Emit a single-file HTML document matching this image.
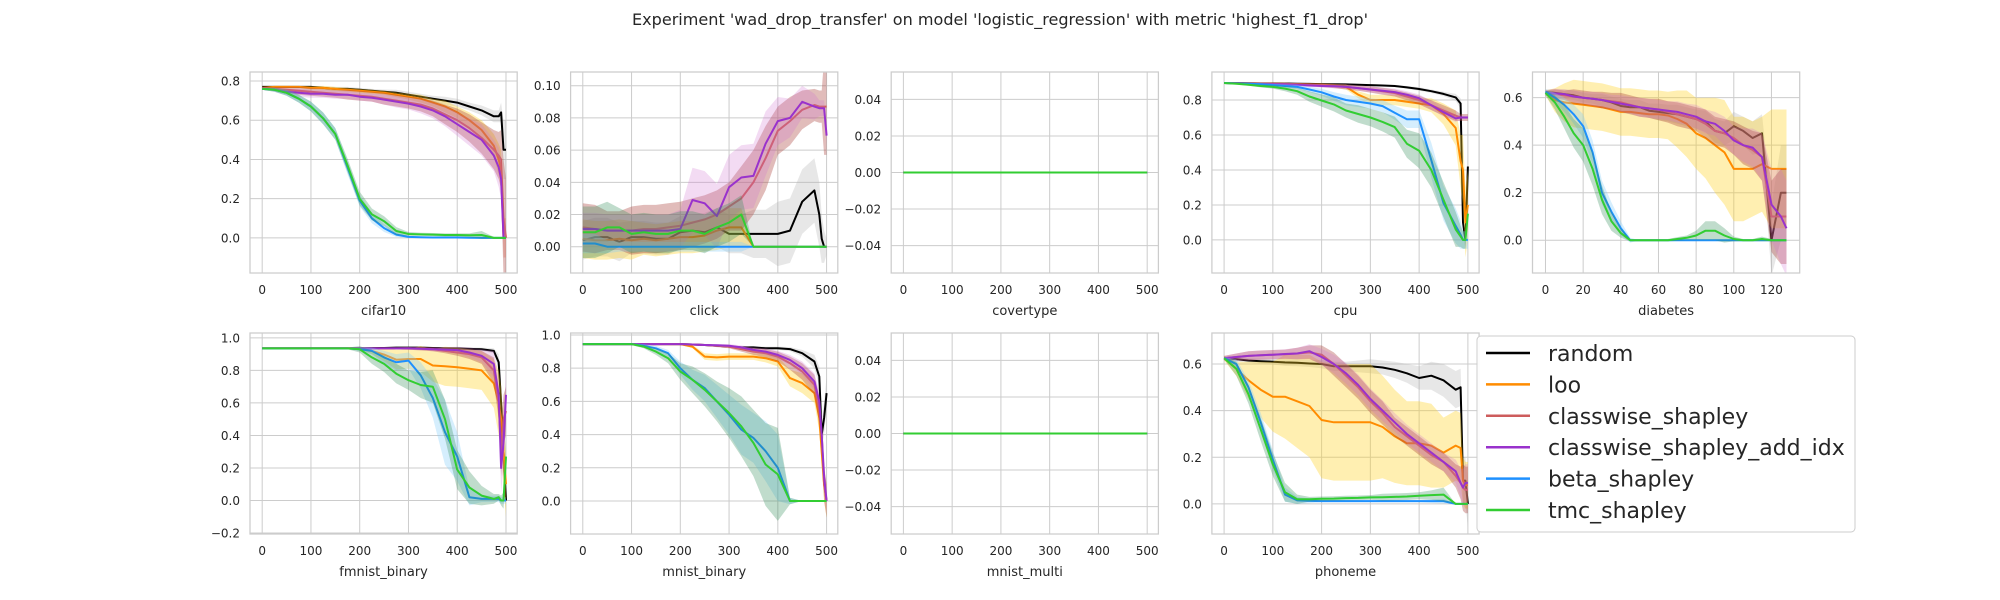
<!DOCTYPE html>
<html><head><meta charset="utf-8"><title>wad_drop_transfer</title>
<style>html,body{margin:0;padding:0;background:#fff;}svg{display:block;font-family:"DejaVu Sans","Liberation Sans",sans-serif;}</style>
</head><body>
<svg id="fig" width="2000" height="600" viewBox="0 0 2000 600" xmlns="http://www.w3.org/2000/svg">
<rect width="2000" height="600" fill="#ffffff"/>
<text x="1000" y="25" font-size="16" fill="#262626" text-anchor="middle" textLength="736" lengthAdjust="spacingAndGlyphs">Experiment 'wad_drop_transfer' on model 'logistic_regression' with metric 'highest_f1_drop'</text>
</svg>
<script>
// ---------- data ----------
const methods = ["random","loo","classwise_shapley","classwise_shapley_add_idx","beta_shapley","tmc_shapley"];
const xs500 = [0,25,50,75,100,125,150,175,200,225,250,275,300,325,350,375,400,425,450,475,485,490,495,500];
const xsDiab = [0,5,10,15,20,25,30,35,40,45,50,55,60,65,70,75,80,85,90,95,100,105,110,115,120,125,128];
const xticks500 = [0,100,200,300,400,500];
const xticksDiab = [0,20,40,60,80,100,120];

// cifar10
const cifar10_random = [.77,.77,.77,.77,.77,.765,.76,.76,.755,.75,.745,.74,.73,.72,.71,.70,.69,.67,.65,.62,.62,.64,.45,.45];
const cifar10_loo = [.765,.77,.77,.77,.765,.765,.76,.755,.75,.745,.74,.73,.72,.71,.69,.67,.64,.60,.55,.47,.40,.35,0,0];
const cifar10_cw = [.765,.76,.755,.75,.745,.74,.735,.73,.725,.72,.71,.70,.69,.68,.66,.63,.60,.56,.51,.45,.42,.40,.1,0];
const cifar10_cwidx = [.76,.755,.745,.74,.735,.735,.73,.73,.72,.715,.705,.695,.685,.67,.65,.62,.58,.54,.50,.42,.36,.30,0,0];
const cifar10_beta = [.76,.755,.74,.71,.67,.61,.53,.36,.19,.10,.05,.017,.005,.003,.002,.002,.002,.001,0,0,0,0,0,0];
const cifar10_tmc = [.76,.755,.74,.71,.67,.61,.53,.37,.20,.12,.085,.035,.02,.018,.017,.015,.015,.013,.015,0,0,0,0,0];
const cifar10_random_sd = [.005,.005,.005,.005,.005,.008,.01,.01,.01,.01,.012,.015,.015,.015,.015,.02,.02,.02,.025,.03,.03,.05,.15,.15];
const cifar10_loo_sd = [.005,.005,.005,.005,.008,.01,.01,.01,.01,.01,.01,.012,.015,.02,.02,.03,.03,.04,.05,.06,.08,.1,.1,.1];
const cifar10_cw_sd = [.005,.01,.015,.02,.02,.02,.02,.025,.025,.025,.03,.03,.03,.035,.04,.05,.06,.07,.08,.1,.12,.15,.3,.3];
const cifar10_cwidx_sd = [.005,.01,.015,.02,.02,.02,.02,.02,.02,.02,.025,.03,.03,.035,.04,.05,.06,.07,.08,.08,.1,.1,.1,.1];
const cifar10_beta_sd = [.005,.01,.015,.02,.025,.03,.03,.035,.03,.025,.02,.012,.005,.003,.003,.003,.003,.003,.003,.003,.003,.003,.003,.003];
const cifar10_tmc_sd = [.005,.01,.015,.02,.025,.03,.03,.035,.035,.03,.025,.02,.01,.008,.008,.008,.008,.01,.02,.005,.005,.005,.005,.005];

// click
const click_random = [.004,.006,.006,.003,.006,.006,.005,.005,.009,.01,.009,.012,.008,.008,.008,.008,.008,.01,.028,.035,.02,.005,0,0];
const click_loo = [.005,.004,.004,.005,.004,.005,.004,.005,.006,.006,.007,.01,.012,.012,0,0,0,0,0,0,0,0,0,0];
const click_cw = [.012,.011,.01,.01,.01,.011,.011,.012,.013,.015,.017,.02,.025,.03,.04,.055,.072,.078,.085,.088,.087,.087,.087,.087];
const click_cwidx = [.011,.011,.01,.01,.01,.01,.01,.01,.011,.029,.027,.019,.037,.043,.044,.064,.078,.08,.09,.087,.086,.086,.086,.069];
const click_beta = [.002,.002,0,0,0,0,0,0,0,0,0,0,0,0,0,0,0,0,0,0,0,0,0,0];
const click_tmc = [.009,.009,.012,.012,.008,.009,.008,.008,.01,.01,.008,.012,.015,.02,0,0,0,0,0,0,0,0,0,0];
const click_random_sd = [.012,.012,.012,.012,.01,.01,.01,.01,.01,.01,.012,.012,.012,.012,.015,.015,.02,.02,.02,.02,.02,.015,.01,.005];
const click_loo_sd = [.012,.012,.012,.012,.012,.01,.01,.01,.01,.01,.01,.012,.012,.012,0,0,0,0,0,0,0,0,0,0];
const click_cw_sd = [.015,.015,.012,.012,.015,.015,.015,.015,.015,.015,.015,.015,.015,.02,.02,.02,.015,.015,.012,.01,.01,.01,.03,.03];
const click_cwidx_sd = [.01,.01,.01,.01,.01,.01,.01,.01,.012,.02,.02,.02,.02,.02,.02,.02,.015,.012,.01,.008,.005,.005,.005,.005];
const click_beta_sd = [.006,.006,.004,.003,.003,.003,.003,.003,.003,.003,.003,.003,.003,.003,0,0,0,0,0,0,0,0,0,0];
const click_tmc_sd = [.016,.016,.016,.012,.012,.012,.012,.012,.012,.012,.012,.012,.012,.012,0,0,0,0,0,0,0,0,0,0];

// covertype / mnist_multi (all methods flat at zero)
const flat_zero = [0,0,0,0,0,0,0,0,0,0,0,0,0,0,0,0,0,0,0,0,0,0,0,0];

// cpu
const cpu_random = [.897,.897,.896,.895,.895,.894,.893,.892,.891,.89,.889,.887,.885,.883,.88,.872,.863,.85,.835,.815,.78,.1,0,.42];
const cpu_loo = [.897,.896,.895,.894,.893,.892,.89,.889,.887,.882,.875,.83,.80,.80,.80,.79,.78,.77,.72,.64,.45,.40,.10,.20];
const cpu_cw = [.897,.896,.895,.894,.893,.892,.89,.888,.885,.88,.875,.868,.86,.85,.84,.82,.80,.77,.74,.71,.70,.70,.70,.70];
const cpu_cwidx = [.897,.895,.893,.891,.89,.889,.886,.883,.88,.878,.875,.868,.86,.853,.845,.83,.81,.77,.73,.695,.70,.70,.70,.70];
const cpu_beta = [.897,.895,.893,.89,.885,.88,.875,.86,.844,.82,.80,.79,.78,.765,.727,.69,.69,.456,.21,.08,.03,0,0,0];
const cpu_tmc = [.897,.893,.887,.88,.875,.865,.85,.82,.797,.775,.74,.72,.70,.675,.645,.55,.51,.40,.23,.06,.02,0,0,.15];
const cpu_random_sd = [.003,.003,.003,.003,.003,.003,.003,.003,.004,.004,.004,.005,.005,.005,.006,.008,.01,.01,.012,.02,.03,.05,.05,.05];
const cpu_loo_sd = [.002,.003,.004,.005,.005,.005,.006,.006,.008,.01,.015,.02,.03,.03,.03,.03,.03,.04,.06,.1,.15,.2,.2,.2];
const cpu_cw_sd = [.002,.003,.004,.005,.005,.006,.007,.008,.01,.012,.015,.015,.018,.02,.02,.022,.025,.028,.03,.03,.02,.02,.02,.02];
const cpu_cwidx_sd = [.002,.003,.004,.005,.005,.006,.007,.008,.01,.012,.014,.015,.017,.018,.02,.02,.022,.025,.025,.02,.015,.01,.01,.01];
const cpu_beta_sd = [.002,.004,.005,.006,.008,.01,.012,.015,.02,.025,.03,.03,.03,.035,.04,.05,.05,.1,.1,.1,.08,.05,.05,.05];
const cpu_tmc_sd = [.002,.004,.006,.008,.01,.015,.02,.03,.035,.04,.04,.05,.05,.055,.06,.08,.1,.1,.1,.1,.06,.05,.05,.05];

// diabetes
const diab_random = [.625,.62,.615,.61,.60,.595,.59,.58,.565,.56,.56,.545,.54,.535,.53,.52,.51,.50,.46,.45,.48,.46,.43,.45,0,.2,.2];
const diab_loo = [.62,.59,.58,.575,.57,.565,.56,.55,.54,.54,.535,.53,.53,.525,.51,.49,.45,.43,.40,.37,.30,.30,.30,.32,.30,.30,.30];
const diab_cw = [.62,.615,.61,.605,.60,.595,.59,.585,.58,.57,.56,.555,.55,.54,.53,.52,.51,.49,.46,.45,.43,.40,.38,.35,.1,.1,.1];
const diab_cwidx = [.62,.618,.615,.605,.60,.595,.59,.582,.575,.568,.56,.555,.55,.545,.54,.53,.52,.50,.49,.46,.42,.40,.39,.35,.15,.1,.05];
const diab_beta = [.625,.60,.57,.53,.48,.37,.20,.12,.05,0,0,0,0,0,0,0,0,0,0,0,0,0,0,0,0,0,0];
const diab_tmc = [.62,.58,.52,.45,.40,.30,.17,.08,.03,0,0,0,0,0,.005,.01,.02,.04,.04,.02,.005,0,0,.005,0,0,0];
const diab_random_sd = [.01,.015,.02,.02,.02,.02,.025,.025,.03,.03,.03,.03,.035,.035,.04,.04,.04,.045,.05,.05,.06,.06,.07,.08,.15,.2,.2];
const diab_loo_sd = [.01,.05,.08,.1,.1,.1,.1,.1,.1,.1,.1,.1,.1,.1,.12,.14,.15,.17,.2,.22,.22,.22,.2,.2,.25,.25,.25];
const diab_cw_sd = [.01,.02,.02,.03,.03,.03,.035,.035,.04,.04,.04,.04,.045,.045,.05,.05,.05,.06,.06,.06,.07,.08,.08,.1,.15,.2,.2];
const diab_cwidx_sd = [.01,.02,.02,.025,.025,.03,.03,.03,.035,.035,.04,.04,.04,.04,.045,.045,.05,.05,.05,.06,.06,.07,.08,.1,.15,.2,.2];
const diab_beta_sd = [.01,.02,.03,.04,.05,.05,.05,.04,.03,.01,0,0,0,0,0,0,0,0,0,0,0,0,0,0,0,0,0];
const diab_tmc_sd = [.01,.03,.05,.06,.07,.07,.06,.04,.02,.005,.005,.005,.005,.005,.008,.01,.02,.04,.04,.03,.01,.005,.005,.01,.005,.005,.005];

// fmnist_binary
const fmn_random = [.935,.935,.935,.935,.935,.935,.935,.935,.935,.937,.938,.94,.94,.94,.938,.936,.935,.932,.93,.92,.85,.6,.3,0];
const fmn_loo = [.935,.935,.935,.935,.935,.935,.935,.935,.935,.92,.897,.866,.87,.87,.83,.825,.82,.81,.80,.72,.6,.5,.3,.1];
const fmn_cw = [.935,.935,.935,.935,.935,.935,.935,.935,.935,.935,.935,.935,.935,.933,.93,.92,.91,.9,.88,.8,.6,.3,.5,.55];
const fmn_cwidx = [.935,.935,.935,.935,.935,.935,.935,.935,.935,.935,.935,.935,.935,.933,.93,.928,.925,.91,.89,.84,.65,.2,.35,.65];
const fmn_beta = [.935,.935,.935,.935,.935,.935,.935,.935,.93,.92,.88,.85,.86,.77,.63,.42,.27,.02,.01,.01,.01,0,0,0];
const fmn_tmc = [.935,.935,.935,.935,.935,.935,.935,.935,.93,.88,.84,.78,.74,.71,.70,.50,.19,.08,.03,.01,.02,0,0,.27];
const fmn_random_sd = [.005,.005,.005,.005,.005,.005,.005,.005,.005,.005,.005,.005,.005,.005,.006,.006,.008,.01,.01,.015,.05,.1,.1,.1];
const fmn_loo_sd = [.005,.005,.005,.005,.005,.005,.005,.005,.005,.02,.04,.06,.06,.08,.1,.12,.12,.12,.12,.15,.2,.2,.2,.2];
const fmn_cw_sd = [.005,.005,.005,.005,.005,.005,.005,.005,.005,.005,.005,.006,.008,.01,.012,.015,.02,.03,.04,.08,.1,.15,.15,.15];
const fmn_cwidx_sd = [.005,.005,.005,.005,.005,.005,.005,.005,.005,.005,.005,.006,.008,.01,.012,.015,.02,.03,.04,.08,.1,.15,.15,.15];
const fmn_beta_sd = [.005,.005,.005,.005,.005,.005,.005,.005,.01,.02,.04,.05,.05,.08,.12,.2,.15,.05,.02,.02,.02,.02,.02,.02];
const fmn_tmc_sd = [.005,.005,.005,.005,.005,.005,.005,.005,.02,.04,.05,.06,.06,.08,.1,.12,.12,.1,.06,.03,.02,.03,.05,.1];

// mnist_binary
const mnb_random = [.945,.945,.945,.945,.945,.945,.945,.945,.945,.943,.94,.935,.93,.925,.925,.92,.92,.915,.89,.84,.75,.4,.5,.65];
const mnb_loo = [.945,.945,.945,.945,.945,.945,.945,.945,.945,.93,.87,.865,.87,.87,.87,.86,.84,.74,.71,.65,.5,.3,.1,0];
const mnb_cw = [.945,.945,.945,.945,.945,.945,.945,.945,.945,.943,.94,.935,.93,.915,.9,.89,.87,.83,.78,.7,.55,.4,.1,0];
const mnb_cwidx = [.945,.945,.945,.945,.945,.945,.945,.945,.945,.943,.94,.938,.935,.925,.91,.9,.88,.85,.8,.72,.6,.4,.15,0];
const mnb_beta = [.945,.945,.945,.945,.945,.935,.92,.89,.80,.73,.68,.60,.52,.43,.38,.30,.20,0,0,0,0,0,0,0];
const mnb_tmc = [.945,.945,.945,.945,.945,.93,.90,.86,.78,.73,.67,.60,.53,.45,.35,.22,.16,0,0,0,0,0,0,0];
const mnb_random_sd = [.004,.004,.004,.004,.004,.004,.004,.004,.004,.005,.005,.006,.006,.007,.008,.01,.01,.012,.02,.04,.06,.08,.1,.1];
const mnb_loo_sd = [.004,.004,.004,.004,.004,.004,.004,.004,.004,.01,.02,.02,.02,.02,.02,.025,.03,.05,.06,.06,.08,.1,.1,.1];
const mnb_cw_sd = [.004,.004,.004,.004,.004,.004,.004,.004,.004,.005,.006,.008,.01,.015,.02,.025,.03,.04,.05,.06,.08,.1,.1,.1];
const mnb_cwidx_sd = [.004,.004,.004,.004,.004,.004,.004,.004,.004,.005,.006,.008,.01,.012,.015,.02,.025,.03,.04,.05,.06,.08,.08,.08];
const mnb_beta_sd = [.005,.005,.005,.005,.005,.01,.015,.02,.04,.06,.08,.1,.12,.15,.15,.18,.2,.02,0,0,0,0,0,0];
const mnb_tmc_sd = [.005,.005,.005,.005,.005,.01,.02,.03,.05,.08,.1,.12,.15,.18,.2,.25,.28,.02,0,0,0,0,0,0];

// phoneme
const pho_random = [.625,.62,.615,.612,.61,.607,.605,.602,.6,.59,.59,.59,.59,.585,.575,.56,.54,.55,.53,.49,.5,.1,.1,0];
const pho_loo = [.625,.58,.53,.49,.46,.46,.44,.42,.36,.35,.35,.35,.35,.33,.29,.26,.26,.25,.22,.25,.24,.1,.08,.08];
const pho_cw = [.625,.63,.635,.638,.64,.642,.645,.65,.64,.6,.55,.5,.44,.39,.33,.29,.25,.21,.18,.12,.09,.07,.06,.06];
const pho_cwidx = [.625,.63,.635,.638,.64,.643,.645,.655,.63,.6,.56,.51,.45,.40,.35,.30,.26,.22,.18,.14,.09,.07,.09,.09];
const pho_beta = [.625,.6,.5,.35,.19,.04,.015,.013,.012,.012,.012,.012,.012,.012,.012,.012,.012,.012,.012,0,0,0,0,0];
const pho_tmc = [.625,.58,.47,.32,.17,.05,.02,.02,.022,.023,.025,.026,.028,.029,.03,.032,.035,.038,.04,0,0,0,0,0];
const pho_random_sd = [.01,.01,.01,.012,.012,.015,.015,.015,.018,.02,.02,.025,.03,.03,.035,.04,.05,.06,.07,.08,.08,.1,.1,.1];
const pho_loo_sd = [.01,.03,.08,.12,.15,.18,.2,.22,.25,.25,.25,.25,.25,.22,.2,.18,.18,.18,.15,.15,.15,.1,.1,.1];
const pho_cw_sd = [.01,.015,.02,.02,.02,.02,.025,.03,.04,.05,.05,.05,.05,.05,.04,.04,.04,.04,.04,.05,.07,.1,.1,.1];
const pho_cwidx_sd = [.01,.015,.02,.02,.02,.02,.025,.03,.035,.04,.045,.045,.045,.045,.04,.04,.04,.04,.04,.05,.06,.08,.08,.08];
const pho_beta_sd = [.005,.02,.03,.04,.04,.03,.015,.01,.005,.005,.005,.005,.005,.005,.005,.005,.005,.008,.01,0,0,0,0,0];
const pho_tmc_sd = [.005,.03,.04,.05,.05,.04,.02,.01,.01,.01,.01,.01,.01,.015,.015,.015,.015,.02,.03,0,0,0,0,0];

const lineColors = ["#000000","#ff8c00","#cd5c5c","#9932cc","#1e90ff","#32cd32"];
const bandColors = ["#b0b0b0","#ffd21f","#a8403a","#d070d0","#87cefa","#2e8b57"];
const bandOpacity = [0.3,0.35,0.35,0.25,0.35,0.3];

// ---------- layout ----------
const colLeft = [250, 570.6, 891.2, 1211.9, 1532.5];
const axW = 267.2, axH = 201;
const rowTop = [72, 333];

const panels = [
 {name:"cifar10", r:0,c:0, xs:xs500, xlim:[-25,523], xt:xticks500, ylim:[-0.179,0.846], yt:[0,.2,.4,.6,.8], dec:1,
  s:[cifar10_random,cifar10_loo,cifar10_cw,cifar10_cwidx,cifar10_beta,cifar10_tmc],
  sd:[cifar10_random_sd,cifar10_loo_sd,cifar10_cw_sd,cifar10_cwidx_sd,cifar10_beta_sd,cifar10_tmc_sd]},
 {name:"click", r:0,c:1, xs:xs500, xlim:[-25,523], xt:xticks500, ylim:[-0.0163,0.1085], yt:[0,.02,.04,.06,.08,.10], dec:2,
  s:[click_random,click_loo,click_cw,click_cwidx,click_beta,click_tmc],
  sd:[click_random_sd,click_loo_sd,click_cw_sd,click_cwidx_sd,click_beta_sd,click_tmc_sd]},
 {name:"covertype", r:0,c:2, xs:xs500, xlim:[-25,523], xt:xticks500, ylim:[-0.055,0.055], yt:[-.04,-.02,0,.02,.04], dec:2,
  s:[flat_zero,flat_zero,flat_zero,flat_zero,flat_zero,flat_zero], sd:null},
 {name:"cpu", r:0,c:3, xs:xs500, xlim:[-25,523], xt:xticks500, ylim:[-0.189,0.96], yt:[0,.2,.4,.6,.8], dec:1,
  s:[cpu_random,cpu_loo,cpu_cw,cpu_cwidx,cpu_beta,cpu_tmc],
  sd:[cpu_random_sd,cpu_loo_sd,cpu_cw_sd,cpu_cwidx_sd,cpu_beta_sd,cpu_tmc_sd]},
 {name:"diabetes", r:0,c:4, xs:xsDiab, xlim:[-6.9,135], xt:xticksDiab, ylim:[-0.138,0.708], yt:[0,.2,.4,.6], dec:1,
  s:[diab_random,diab_loo,diab_cw,diab_cwidx,diab_beta,diab_tmc],
  sd:[diab_random_sd,diab_loo_sd,diab_cw_sd,diab_cwidx_sd,diab_beta_sd,diab_tmc_sd]},
 {name:"fmnist_binary", r:1,c:0, xs:xs500, xlim:[-25,523], xt:xticks500, ylim:[-0.206,1.03], yt:[-.2,0,.2,.4,.6,.8,1.0], dec:1,
  s:[fmn_random,fmn_loo,fmn_cw,fmn_cwidx,fmn_beta,fmn_tmc],
  sd:[fmn_random_sd,fmn_loo_sd,fmn_cw_sd,fmn_cwidx_sd,fmn_beta_sd,fmn_tmc_sd]},
 {name:"mnist_binary", r:1,c:1, xs:xs500, xlim:[-25,523], xt:xticks500, ylim:[-0.199,1.012], yt:[0,.2,.4,.6,.8,1.0], dec:1,
  s:[mnb_random,mnb_loo,mnb_cw,mnb_cwidx,mnb_beta,mnb_tmc],
  sd:[mnb_random_sd,mnb_loo_sd,mnb_cw_sd,mnb_cwidx_sd,mnb_beta_sd,mnb_tmc_sd]},
 {name:"mnist_multi", r:1,c:2, xs:xs500, xlim:[-25,523], xt:xticks500, ylim:[-0.055,0.055], yt:[-.04,-.02,0,.02,.04], dec:2,
  s:[flat_zero,flat_zero,flat_zero,flat_zero,flat_zero,flat_zero], sd:null},
 {name:"phoneme", r:1,c:3, xs:xs500, xlim:[-25,523], xt:xticks500, ylim:[-0.129,0.733], yt:[0,.2,.4,.6], dec:1,
  s:[pho_random,pho_loo,pho_cw,pho_cwidx,pho_beta,pho_tmc],
  sd:[pho_random_sd,pho_loo_sd,pho_cw_sd,pho_cwidx_sd,pho_beta_sd,pho_tmc_sd]}
];

// ---------- render ----------
const NS = "http://www.w3.org/2000/svg";
const svg = document.getElementById("fig");
function el(tag, attrs, parent){
  const e = document.createElementNS(NS, tag);
  for (const k in attrs) e.setAttribute(k, attrs[k]);
  (parent||svg).appendChild(e);
  return e;
}
function fmt(v, dec){
  const s = Math.abs(v).toFixed(dec);
  return (v < -1e-9 ? "\u2212" : "") + s;
}

panels.forEach(p => {
  const L = colLeft[p.c], T = rowTop[p.r];
  const xS = v => L + (v - p.xlim[0]) / (p.xlim[1] - p.xlim[0]) * axW;
  const yS = v => T + axH - (v - p.ylim[0]) / (p.ylim[1] - p.ylim[0]) * axH;

  const g = el("g", {});
  
  

  const clipId = "clip-" + p.name;
  const cp = el("clipPath", {id: clipId}, g);
  el("rect", {x:L, y:T, width:axW, height:axH}, cp);

  const grid = el("g", {stroke:"#cccccc", "stroke-width":1}, g);
  
  
  p.xt.forEach(t => el("line", {x1:xS(t), x2:xS(t), y1:T, y2:T+axH}, grid));
  p.yt.forEach(t => el("line", {x1:L, x2:L+axW, y1:yS(t), y2:yS(t)}, grid));

  p.xt.forEach(t => {
    const tx = el("text", {x:xS(t), y:T+axH+21, "font-size":12, fill:"#262626", "text-anchor":"middle"}, g);
    tx.textContent = String(t);
    
    
  });
  p.yt.forEach(t => {
    const ty = el("text", {x:L-10, y:yS(t)+4.5, "font-size":12, fill:"#262626", "text-anchor":"end"}, g);
    ty.textContent = fmt(t, p.dec);
    
    
  });
  const xl = el("text", {x:L+axW/2, y:T+axH+42, "font-size":13, fill:"#262626", "text-anchor":"middle"}, g);
  xl.textContent = p.name;
  
  

  const plot = el("g", {"clip-path":"url(#" + clipId + ")"}, g);
  p.s.forEach((vals, i) => {
    if (p.sd) {
      const sd = p.sd[i];
      let up = [], lo = [];
      vals.forEach((v, j) => {
        up.push(xS(p.xs[j]).toFixed(1) + "," + yS(v + sd[j]).toFixed(1));
        lo.unshift(xS(p.xs[j]).toFixed(1) + "," + yS(v - sd[j]).toFixed(1));
      });
      const band = el("polygon", {points: up.concat(lo).join(" "), fill: bandColors[i], "fill-opacity": bandOpacity[i], stroke:"none"}, plot);
      
      
    }
    const pts = vals.map((v, j) => xS(p.xs[j]).toFixed(1) + "," + yS(v).toFixed(1)).join(" ");
    const line = el("polyline", {points: pts, fill:"none", stroke: lineColors[i], "stroke-width": 2, "stroke-linejoin":"round"}, plot);
    
    
  });

  const fr = el("rect", {x:L, y:T, width:axW, height:axH, fill:"none", stroke:"#cccccc", "stroke-width":1.25}, g);
  
  
});

const lg = el("g", {});


el("rect", {x:1477, y:336, width:378, height:196, rx:4, fill:"#ffffff", "fill-opacity":0.9, stroke:"#cccccc", "stroke-width":1}, lg);
methods.forEach((m, i) => {
  const cy = 353 + i * 31.4;
  const ent = el("g", {}, lg);
  
  
  el("line", {x1:1486, x2:1530, y1:cy, y2:cy, stroke: lineColors[i], "stroke-width":2.5}, ent);
  const t = el("text", {x:1548, y:cy+8, "font-size":22, fill:"#262626"}, ent);
  t.textContent = m;
});
</script>
</body></html>
